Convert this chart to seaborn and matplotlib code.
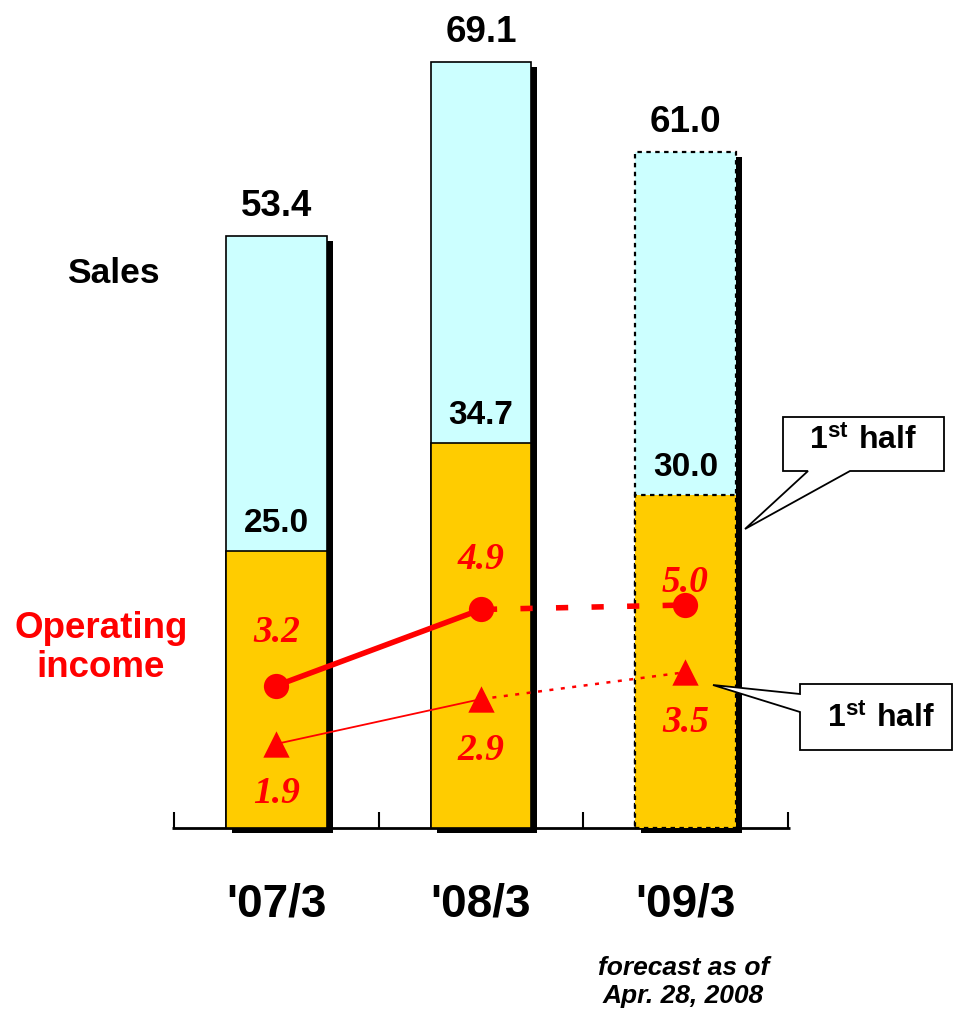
import numpy as np
import matplotlib
matplotlib.use("Agg")
import matplotlib.pyplot as plt
from matplotlib.patches import Polygon
from matplotlib.transforms import Affine2D, ScaledTranslation, blended_transform_factory
import seaborn as sns

# Fiscal years (sales in billions of yen, operating income in billions of yen)
periods = ["'07/3", "'08/3", "'09/3"]
sales_total = [53.4, 69.1, 61.0]
sales_first_half = [25.0, 34.7, 30.0]
income_full = [3.2, 4.9, 5.0]
income_first_half = [1.9, 2.9, 3.5]

CYAN = "#CCFFFF"
GOLD = "#FFCC00"
RED = "#FF0000"

sns.set_theme(style="white")
plt.rcParams["font.family"] = ["Liberation Sans", "DejaVu Sans"]
plt.rcParams["text.color"] = "black"
plt.rcParams["mathtext.fontset"] = "custom"
plt.rcParams["mathtext.rm"] = "Liberation Sans"
plt.rcParams["mathtext.bf"] = "Liberation Sans:bold"

W, H = 954, 1012
fig = plt.figure(figsize=(W / 100, H / 100), dpi=100)
fig.patch.set_facecolor("white")
# pixel coordinates measured from the top-left corner
px = Affine2D().scale(1 / W, -1 / H).translate(0, 1) + fig.transFigure

STEP, X0 = 204.5, 276.5          # category spacing / first centre (px)
BASE, SALES_PX = 829, 11.085     # sales baseline and px per unit
INC_BASE, INC_PX = 830, 44.8     # income baseline and px per unit
PT = 0.72                        # px -> points at 100 dpi

pos = np.arange(len(periods))
xlim = (-X0 / STEP, (W - X0) / STEP)

# ---- sales bars -------------------------------------------------------
ax = fig.add_axes([0, 0, 1, 1])
ax.set_axis_off()

# baseline with category separators
ax.plot([-0.51, 2.51], [0, 0], color="black", lw=2, zorder=0.5,
        solid_capstyle="butt")
ax.vlines(np.arange(-0.5, len(periods)), 0, 16 / SALES_PX, color="black",
          lw=1.5, zorder=0.5)

n0 = len(ax.patches)
sns.barplot(x=periods, y=sales_total, color="black", saturation=1,
            width=0.49, linewidth=0, errorbar=None, ax=ax)
shift = ScaledTranslation(6 / 100, -5 / 100, fig.dpi_scale_trans)
for p in ax.patches[n0:]:
    p.set_transform(ax.transData + shift)

n1 = len(ax.patches)
sns.barplot(x=periods, y=sales_total, color=CYAN, saturation=1, width=0.49,
            edgecolor="black", linewidth=1.2, errorbar=None, ax=ax)
total_bars = ax.patches[n1:]
n2 = len(ax.patches)
sns.barplot(x=periods, y=sales_first_half, color=GOLD, saturation=1,
            width=0.49, edgecolor="black", linewidth=1.2, errorbar=None, ax=ax)
half_bars = ax.patches[n2:]
# forecast year drawn with a dashed outline
for b in (total_bars[-1], half_bars[-1]):
    b.set_linestyle((0, (2, 2)))
    b.set_linewidth(1.6)

ax.set_axis_off()
ax.set_xlim(*xlim)
ax.set_ylim(-(H - BASE) / SALES_PX, BASE / SALES_PX)

for i, v in enumerate(sales_total):
    ax.annotate(f"{v:.1f}", (i, v), xytext=(0, 21 * PT),
                textcoords="offset points", ha="center", va="baseline",
                fontsize=26.5, fontweight="bold", color="black")
for i, v in enumerate(sales_first_half):
    ax.annotate(f"{v:.1f}", (i, v), xytext=(0, 20 * PT),
                textcoords="offset points", ha="center", va="baseline",
                fontsize=24, fontweight="bold", color="black")

# ---- operating income -------------------------------------------------
ax2 = fig.add_axes([0, 0, 1, 1], label="income")
ax2.patch.set_visible(False)
ax2.set_axis_off()

sns.lineplot(x=pos[:2], y=income_full[:2], color=RED, linewidth=4,
             solid_capstyle="butt", ax=ax2)
sns.lineplot(x=pos[1:], y=income_full[1:], color=RED, linewidth=4,
             linestyle=(5.7, (2.2, 4.2)), ax=ax2)
sns.lineplot(x=pos[:2], y=income_first_half[:2], color=RED, linewidth=1.3,
             ax=ax2)
sns.lineplot(x=pos[1:], y=income_first_half[1:], color=RED, linewidth=1.8,
             linestyle=(0, (1.6, 3.0)), ax=ax2)
sns.scatterplot(x=pos, y=income_full, marker="o", s=330, color=RED,
                linewidth=0, zorder=5, ax=ax2)
sns.scatterplot(x=pos, y=income_first_half, marker="^", s=360, color=RED,
                linewidth=0, zorder=5, ax=ax2)

ax2.set_axis_off()
ax2.set_xlim(*xlim)
ax2.set_ylim(-(H - INC_BASE) / INC_PX, INC_BASE / INC_PX)

red_font = dict(family="Liberation Serif", style="italic", weight="bold",
                fontsize=27, color=RED, ha="center", va="baseline")
full_offsets = [45, 41, 14]
half_offsets = [-58, -60, -59]
for i, (v, o) in enumerate(zip(income_full, full_offsets)):
    ax2.annotate(f"{v:.1f}", (i, v), xytext=(0, o * PT),
                 textcoords="offset points", **red_font)
for i, (v, o) in enumerate(zip(income_first_half, half_offsets)):
    ax2.annotate(f"{v:.1f}", (i, v), xytext=(0, o * PT),
                 textcoords="offset points", **red_font)

# ---- category labels and notes ----------------------------------------
xpx = blended_transform_factory(ax2.transData, px)
for i, lab in enumerate(periods):
    ax2.text(i, 917, lab, transform=xpx, ha="center", va="baseline",
             fontsize=33, fontweight="bold", color="black")
ax2.text(1.99, 975, "forecast as of", transform=xpx, ha="center",
         va="baseline", fontsize=19, fontweight="bold", style="italic",
         color="black")
ax2.text(1.99, 1003, "Apr. 28, 2008", transform=xpx, ha="center",
         va="baseline", fontsize=19, fontweight="bold", style="italic",
         color="black")

ax2.text(113, 283, "Sales", transform=px, ha="center", va="baseline",
         fontsize=25.5, fontweight="bold", color="black")
ax2.text(101, 638, "Operating", transform=px, ha="center", va="baseline",
         fontsize=26.5, fontweight="bold", color=RED)
ax2.text(101, 677, "income", transform=px, ha="center", va="baseline",
         fontsize=26.5, fontweight="bold", color=RED)

# ---- "1st half" callouts ----------------------------------------------
callout_top = [(783, 418), (944, 418), (944, 472), (850, 472), (745, 530),
               (808, 472), (783, 472)]
callout_bottom = [(800, 685), (952, 685), (952, 751), (800, 751),
                  (800, 713), (713, 686), (800, 695)]
for verts in (callout_top, callout_bottom):
    ax2.add_patch(Polygon(verts, closed=True, transform=px, clip_on=False,
                          facecolor="white", edgecolor="black", lw=1.3,
                          joinstyle="miter", zorder=6))
half_label = r"$\mathbf{1^{st}\ half}$"
ax2.text(863, 450, half_label, transform=px, ha="center", va="baseline",
         fontsize=23, color="black", zorder=7)
ax2.text(881, 728, half_label, transform=px, ha="center", va="baseline",
         fontsize=23, color="black", zorder=7)

fig.savefig("out.png", dpi=100, facecolor="white")
